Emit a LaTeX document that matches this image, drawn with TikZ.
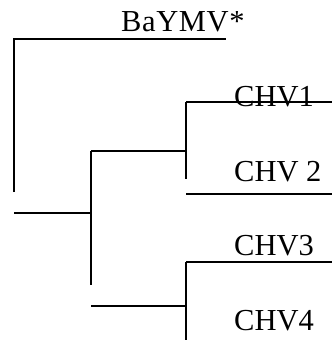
\documentclass[tikz,border=0pt]{standalone}
\usepackage{fontspec}
\setmainfont{Liberation Serif}
\begin{document}
\begin{tikzpicture}[x=1pt,y=-1pt,
  branch/.style={line width=1.7pt,line cap=butt},
  leaf/.style={anchor=base west,inner sep=0pt,font=\fontsize{30.5}{36}\selectfont}]
\useasboundingbox (0,0) rectangle (332,347);
% labels
\node[leaf] (baymv) at (121,32) {\addfontfeature{Kerning=Off,LetterSpace=2}BaYMV*};
\node[leaf] (chv1) at (234,107) {CHV1};
\node[leaf] (chv2) at (234,181) {CHV 2};
\node[leaf] (chv3) at (234,255) {CHV3};
\node[leaf] (chv4) at (234,330) {CHV4};
% coordinates
\coordinate (a1) at (14,192);
\coordinate (a2) at (14,39);
\coordinate (a3) at (226,39);
\coordinate (r1) at (14,213);
\coordinate (r2) at (91,213);
\coordinate (b1) at (91,151);
\coordinate (b2) at (91,285);
\coordinate (b3) at (186,151);
\coordinate (c1) at (186,102);
\coordinate (c2) at (186,179);
\coordinate (c3) at (332,102);
\coordinate (c4) at (186,194);
\coordinate (c5) at (332,194);
\coordinate (d0) at (91,306);
\coordinate (d1) at (186,306);
\coordinate (d2) at (186,262);
\coordinate (d3) at (186,340);
\coordinate (d4) at (332,262);
% branches
\draw[branch] (a1) -- (a2) -- (a3);
\draw[branch] (r1) -- (r2);
\draw[branch] (b1) -- (b2);
\draw[branch] (b1) -- (b3);
\draw[branch] (c1) -- (c2);
\draw[branch] (c1) -- (c3);
\draw[branch] (c4) -- (c5);
\draw[branch] (d0) -- (d1);
\draw[branch] (d2) -- (d3);
\draw[branch] (d2) -- (d4);
\end{tikzpicture}
\end{document}
